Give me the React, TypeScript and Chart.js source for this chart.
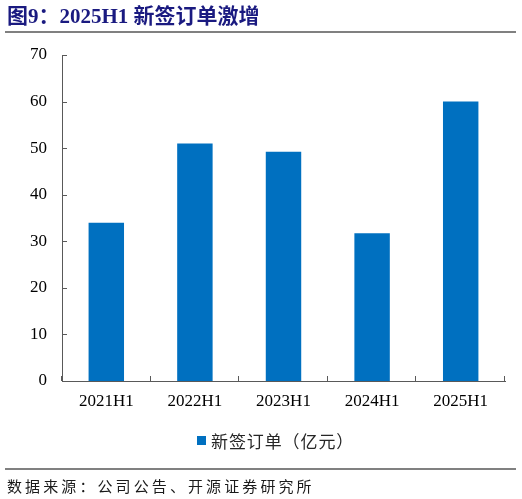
import React, { useEffect, useRef } from "react";
import { Chart, registerables } from "chart.js";

Chart.register(...registerables);

const categories = ["2021H1", "2022H1", "2023H1", "2024H1", "2025H1"];
const newOrders = [34.0, 51.0, 49.2, 31.7, 60.0];
const seriesName = "新签订单（亿元）";
const yMin = 0;
const yMax = 70;
const yStep = 10;
const titleText = "图9：2025H1 新签订单激增";
const sourceText = "数据来源：公司公告、开源证券研究所";

const AXIS_COLOR = "#595959";
const BAR_COLOR = "#0070C0";

const innerTicks = {
  id: "innerTicks",
  afterDraw(chart: any) {
    const ctx = chart.ctx;
    const xs = chart.scales.x;
    const ys = chart.scales.y;
    const area = chart.chartArea;
    ctx.save();
    ctx.strokeStyle = AXIS_COLOR;
    ctx.lineWidth = 1;
    ctx.beginPath();
    ys.ticks.forEach((t: any) => {
      const y = Math.round(ys.getPixelForValue(t.value)) + 0.5;
      ctx.moveTo(area.left, y);
      ctx.lineTo(area.left + 5, y);
    });
    const n = categories.length;
    for (let i = 0; i <= n; i++) {
      const x = Math.round(xs.left + (i * (xs.right - xs.left)) / n) - 0.5;
      ctx.moveTo(x, area.bottom);
      ctx.lineTo(x, area.bottom - 5);
    }
    ctx.stroke();
    ctx.restore();
  },
};

export default function App() {
  const ref = useRef<HTMLCanvasElement>(null);
  useEffect(() => {
    if (!ref.current) return;
    const chart = new Chart(ref.current, {
      type: "bar",
      data: {
        labels: categories,
        datasets: [
          {
            label: seriesName,
            data: newOrders,
            backgroundColor: BAR_COLOR,
            borderWidth: 0,
            categoryPercentage: 1,
            barPercentage: 0.4,
          },
        ],
      },
      options: {
        responsive: false,
        animation: false,
        devicePixelRatio: 1,
        layout: { padding: { left: 0, right: 17, top: 55, bottom: 76 } },
        plugins: {
          tooltip: { enabled: false },
          legend: { display: false },
        },
        scales: {
          x: {
            grid: { display: false, drawTicks: false },
            border: { display: true, color: AXIS_COLOR, width: 1 },
            ticks: {
              color: "#000",
              padding: 10,
              font: { family: "'Liberation Serif'", size: 17 },
            },
            afterFit(scale: any) {
              scale.height = 42;
            },
          },
          y: {
            min: yMin,
            max: yMax,
            grid: { display: false, drawTicks: false },
            border: { display: true, color: AXIS_COLOR, width: 1 },
            ticks: {
              stepSize: yStep,
              color: "#000",
              padding: 15,
              font: { family: "'Liberation Serif'", size: 17 },
            },
            afterFit(scale: any) {
              scale.width = 62;
            },
          },
        },
      },
      plugins: [innerTicks],
    });
    return () => chart.destroy();
  }, []);

  return (
    <div style={{ position: "absolute", left: 0, top: 0, width: 522, height: 499, background: "#fff", overflow: "hidden" }}>
      <canvas ref={ref} width={522} height={499} style={{ position: "absolute", left: 0, top: 0, width: 522, height: 499 }} />
      <div
        style={{
          position: "absolute",
          left: 7,
          top: 5,
          fontFamily: "'Liberation Serif', 'Noto Sans CJK SC', serif",
          fontWeight: 700,
          fontSize: 21,
          lineHeight: "22px",
          color: "#1a1a80",
          whiteSpace: "nowrap",
        }}
      >
        {titleText}
      </div>
      <div style={{ position: "absolute", left: 5, top: 31, width: 511, height: 2, background: "#808080" }} />
      <div style={{ position: "absolute", left: 197, top: 436, width: 9, height: 9, background: BAR_COLOR }} />
      <div
        style={{
          position: "absolute",
          left: 211,
          top: 429,
          fontFamily: "'Noto Sans CJK SC', sans-serif",
          fontSize: 17,
          lineHeight: "24px",
          letterSpacing: "0.9px",
          color: "#262626",
          whiteSpace: "nowrap",
        }}
      >
        {seriesName}
      </div>
      <div style={{ position: "absolute", left: 5, top: 468, width: 511, height: 2, background: "#808080" }} />
      <div
        style={{
          position: "absolute",
          left: 7,
          top: 476,
          fontFamily: "'Noto Sans CJK SC', sans-serif",
          fontSize: 15,
          lineHeight: "20px",
          letterSpacing: "3.1px",
          color: "#1a1a1a",
          whiteSpace: "nowrap",
        }}
      >
        {sourceText}
      </div>
    </div>
  );
}
